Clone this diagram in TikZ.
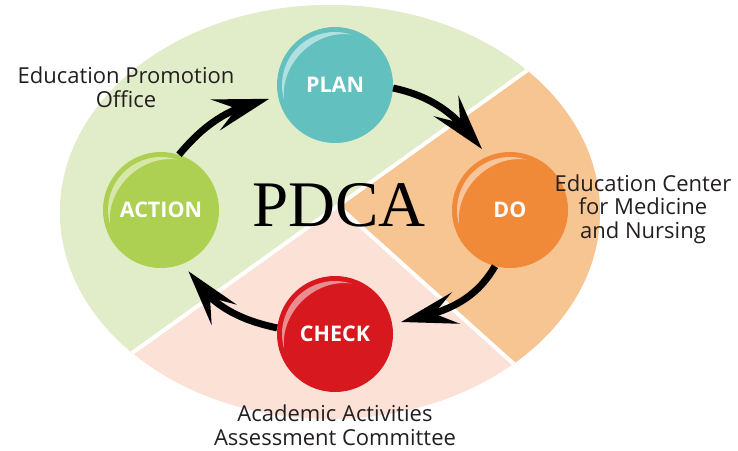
\documentclass[tikz,border=0pt]{standalone}
\usepackage{fontspec}
\setmainfont{Open Sans}
\newfontfamily\pdcafont{Liberation Serif}
\usetikzlibrary{arrows.meta,bending,calc}
\definecolor{bggreen}{HTML}{E1EDC8}
\definecolor{bgorange}{HTML}{F7C592}
\definecolor{bgpink}{HTML}{FCE2D6}
\definecolor{planc}{HTML}{62C1BF}
\definecolor{doc}{HTML}{F08A38}
\definecolor{checkc}{HTML}{D7191F}
\definecolor{actionc}{HTML}{ADCF52}
\definecolor{lbltext}{HTML}{231F20}
\begin{document}
\begin{tikzpicture}
[x=1pt,y=1pt,
ball/.style={circle,minimum size=116pt,inner sep=0pt,text=white,font=\bfseries\fontsize{21.5}{24}\selectfont},
lbl/.style={align=center,text=lbltext,font=\fontsize{22}{23.5}\selectfont},
cyc/.style={line width=7pt,-{Stealth[length=56pt,width=32pt,inset=22pt]},shorten >=9pt}]
\useasboundingbox (0,0) rectangle (738,-450);
\begin{scope}
\clip (330,-212) ellipse [x radius=270,y radius=207];
\fill[bgpink] (0,0) rectangle (738,-450);
\fill[bggreen] (722,69) -- (-65,-494) -- (-100,-494) -- (-100,100) -- (722,100) -- cycle;
\fill[bgorange] (338,-206) -- (722,69) -- (800,69) -- (800,-524) -- (692,-524) -- cycle;
\draw[white,line width=4pt] (722,69) -- (-65,-494) (338,-206) -- (692,-524);
\end{scope}
\node[anchor=base,font=\pdcafont\fontsize{65}{70}\selectfont] (pdca) at (339,-226) {PDCA};
\node[ball,fill=planc] (plan) at (335,-85) {PLAN};
\node[ball,fill=doc] (do) at (510,-210) {DO};
\node[ball,fill=checkc] (check) at (335,-334) {CHECK};
\node[ball,fill=actionc] (action) at (161,-210) {ACTION};
\foreach \n in {plan,do,check,action}
\fill[white,opacity=.5] ($(\n)+(72:53)$) arc[start angle=72,end angle=196,radius=53] to[bend left=52] ($(\n)+(72:53)$) -- cycle;
\foreach \from/\to/\o/\i in {action.72/plan.192/50/190,plan.-3/do.113/-12/125,do.255/check.10/240/12,check.174/action.-67/168/-60}
\draw[cyc] (\from) to[out=\o,in=\i] (\to);
\node[lbl] (promo) at (126,-87) {Education Promotion\\Office};
\node[lbl] (center) at (643,-209) {Education Center\\for Medicine\\and Nursing};
\node[lbl] (assess) at (335,-425) {Academic Activities\\Assessment Committee};
\end{tikzpicture}
\end{document}
